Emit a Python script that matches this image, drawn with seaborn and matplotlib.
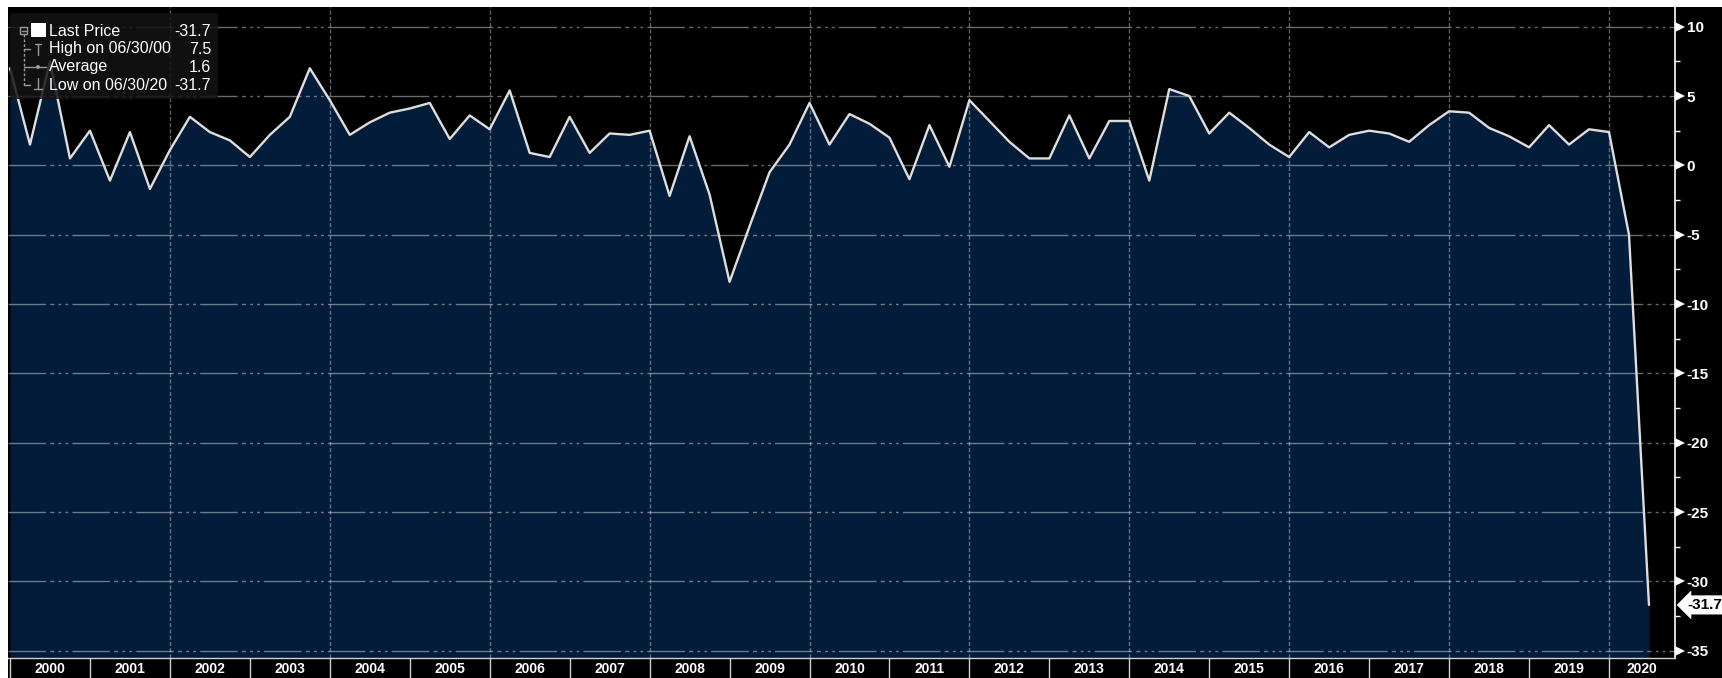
import numpy as np
import pandas as pd
import seaborn as sns
import matplotlib
matplotlib.use("Agg")
import matplotlib.pyplot as plt
from matplotlib.transforms import Affine2D, blended_transform_factory
from matplotlib.patches import Rectangle, FancyBboxPatch, Circle
from matplotlib.lines import Line2D
from matplotlib.ticker import FixedLocator, FixedFormatter, NullFormatter

# ---------------- data ----------------
quarters = pd.period_range("1999Q4", "2020Q2", freq="Q")
gdp_qoq = [7.0,
           1.5, 7.5, 0.5, 2.5,
           -1.1, 2.4, -1.7, 1.1,
           3.5, 2.4, 1.8, 0.6,
           2.2, 3.5, 7.0, 4.7,
           2.2, 3.1, 3.8, 4.1,
           4.5, 1.9, 3.6, 2.6,
           5.4, 0.9, 0.6, 3.5,
           0.9, 2.3, 2.2, 2.5,
           -2.2, 2.1, -2.1, -8.4,
           -4.4, -0.5, 1.5, 4.5,
           1.5, 3.7, 3.0, 2.0,
           -1.0, 2.9, -0.1, 4.7,
           3.2, 1.7, 0.5, 0.5,
           3.6, 0.5, 3.2, 3.2,
           -1.1, 5.5, 5.0, 2.3,
           3.8, 2.7, 1.5, 0.6,
           2.4, 1.3, 2.2, 2.5,
           2.3, 1.7, 2.9, 3.9,
           3.8, 2.7, 2.1, 1.3,
           2.9, 1.5, 2.6, 2.4,
           -5.0, -31.7]
y_ticks = [10, 5, 0, -5, -10, -15, -20, -25, -30, -35]
year_labels = [str(y) for y in range(2000, 2021)]
legend_names = ["Last Price", "High on {}", "Average", "Low on {}"]

# ---------------- derived ----------------
x_pos = np.array([p.qyear + p.quarter / 4.0 for p in quarters])  # quarter-end in fractional years
vals = np.array(gdp_qoq)
df = pd.DataFrame({"t": x_pos, "v": vals})
years = np.array([int(y) for y in year_labels], dtype=float)

W, H = 1722, 678
sns.set_theme(style="dark")
plt.rcParams["font.family"] = ["Liberation Sans", "DejaVu Sans"]
plt.rcParams["axes.unicode_minus"] = False

fig = plt.figure(figsize=(W / 100, H / 100), dpi=100, facecolor="white")
px = Affine2D().scale(1.0 / W, -1.0 / H).translate(0, 1) + fig.transFigure

# black chart background (leaves thin white margins top/left)
fig.patches.append(Rectangle((8, 7), W - 8, H - 7, transform=px, fc="black", ec="none", zorder=-5))

L, R, T, B = 8, 1675, 7, 658
ax = fig.add_axes([L / W, (H - B) / H, (R - L) / W, (B - T) / H])
ax.set_facecolor("black")

x_left = 2000.0 - 2 / 79.95
x_right = 2000.0 + (R - 10) / 79.95
y_top = 10 + (26.7 - T) / 13.87
y_bot = -35 - (B - 650.7) / 13.87
ax.set_xlim(x_left, x_right)
ax.set_ylim(y_bot, y_top)

navy = "#031c39"
ax.fill_between(df["t"], df["v"], y_bot - 5, color=navy, lw=0, zorder=1)
sns.lineplot(data=df, x="t", y="v", ax=ax, color="#dedede", lw=1.7, zorder=4)
ax.set_xlabel("")
ax.set_ylabel("")

# grid
ax.grid(False)
ax.set_axisbelow(False)
ax.set_yticks(y_ticks)
ax.yaxis.grid(True, color="white", alpha=0.42, lw=1.0,
              linestyle=(0, (27, 3, 3, 3, 2, 3, 2, 3)))
for gl in ax.get_ygridlines():
    gl.set_zorder(2.5)
ax.vlines(years[2::2], y_bot, y_top, colors="white", alpha=0.38, lw=1.0,
          linestyles=[(0, (3, 1.5))], zorder=2.5)

# x axis: year bands
ax.xaxis.set_major_locator(FixedLocator(years))
ax.xaxis.set_major_formatter(NullFormatter())
centers = list(years[:-1] + 0.5) + [(years[-1] + x_right) / 2]
ax.xaxis.set_minor_locator(FixedLocator(centers))
ax.xaxis.set_minor_formatter(FixedFormatter(year_labels))
ax.tick_params(axis="x", which="major", direction="out", length=14.4, width=1.0,
               color="#cfcfcf", bottom=True)
ax.tick_params(axis="x", which="minor", length=0, pad=3, labelsize=10,
               labelcolor="white", bottom=True)
for lab in ax.get_xticklabels(minor=True):
    lab.set_fontweight("bold")

# y axis on the right
ax.yaxis.tick_right()
ax.yaxis.set_major_formatter(FixedFormatter([str(v) for v in y_ticks]))
minor_y = [v + 2.5 for v in y_ticks[1:]]
ax.yaxis.set_minor_locator(FixedLocator(minor_y))
ax.tick_params(axis="y", which="major", length=0, pad=8.5, labelsize=11,
               labelcolor="white", right=True, left=False)
ax.tick_params(axis="y", which="minor", direction="out", length=3.6, width=1.0,
               color="white", right=True, left=False)
for lab in ax.get_yticklabels():
    lab.set_fontweight("bold")

blend = blended_transform_factory(ax.transAxes, ax.transData)
ax.plot([1.0 + 5 / (R - L)] * len(y_ticks), y_ticks, ls="none", marker=">",
        ms=6.5, mew=0, color="white", transform=blend, clip_on=False, zorder=5)

for side in ["top", "left"]:
    ax.spines[side].set_visible(False)
ax.spines["right"].set_color("white")
ax.spines["right"].set_linewidth(1.2)
ax.spines["bottom"].set_color("#d0d0d0")
ax.spines["bottom"].set_linewidth(1.0)

# last value tag
last = vals[-1]
ax.text(1.0 + 12 / (R - L), last, f"{last:.1f}", transform=blend, ha="left", va="center",
        fontsize=11, fontweight="bold", color="black", clip_on=False, zorder=6,
        bbox=dict(boxstyle="larrow,pad=0.14", fc="white", ec="white", lw=0.5))

# ---------------- legend overlay ----------------
hi_i, lo_i = int(np.argmax(vals)), int(np.argmin(vals))
def qdate(p):
    return p.end_time.strftime("%m/%d/%y")
rows = [(legend_names[0], vals[-1]),
        (legend_names[1].format(qdate(quarters[hi_i])), vals[hi_i]),
        (legend_names[2], vals.mean()),
        (legend_names[3].format(qdate(quarters[lo_i])), vals[lo_i])]

fig.patches.append(FancyBboxPatch((10, 13), 208, 86, boxstyle="round,pad=0,rounding_size=3",
                                  transform=px, fc="#141414", ec="none", alpha=0.85, zorder=10))
row_y = [31, 49, 67, 85]
for (name, v), yy in zip(rows, row_y):
    fig.text(49, yy, name, transform=px, color="white", fontsize=11.5, ha="left", va="center", zorder=12)
    fig.text(211, yy, f"{v:.1f}", transform=px, color="white", fontsize=11.5, ha="right", va="center", zorder=12)

gray = "#9a9a9a"
def pline(xs, ys, **kw):
    fig.lines.append(Line2D(xs, ys, transform=px, color=gray, lw=1.0, zorder=11, **kw))
fig.patches.append(Rectangle((20, 27), 7, 7, transform=px, fc="none", ec=gray, lw=1.0, zorder=11))
pline([21.5, 25.5], [30.5, 30.5])
pline([23.5, 23.5], [34, 86], ls=(0, (2, 1.5)))
for yy in row_y[1:]:
    pline([23.5, 30], [yy, yy])
pline([35, 41], [44, 44]); pline([38, 38], [44, 55])
pline([31, 46], [67, 67])
fig.patches.append(Circle((38, 67), 2.0, transform=px, fc=gray, ec="none", zorder=11))
pline([38, 38], [78, 89]); pline([34, 42], [89, 89])
fig.patches.append(Rectangle((31, 23), 15, 14, transform=px, fc="white", ec="none", zorder=12))

fig.savefig("out.png", dpi=100, facecolor="white")
